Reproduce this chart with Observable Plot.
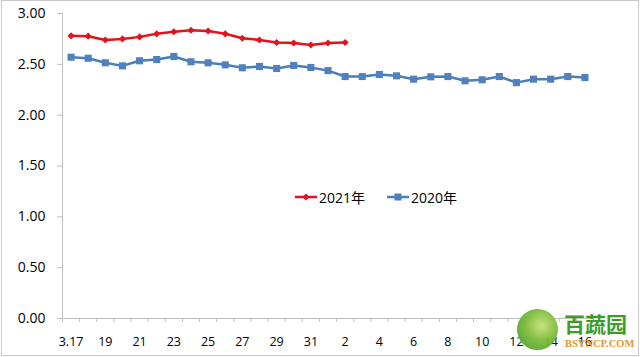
<!DOCTYPE html>
<html>
<head>
<meta charset="utf-8">
<script src="https://cdn.jsdelivr.net/npm/d3@7"></script>
<script src="https://cdn.jsdelivr.net/npm/@observablehq/plot@0.6"></script>
<style>
  html, body { margin: 0; padding: 0; background: #fff; }
  #wrap { position: relative; width: 640px; height: 357px; overflow: hidden; font-family: "Open Sans", "Noto Sans CJK SC", sans-serif; }
  #border { position: absolute; left: 1px; top: 0; width: 636px; height: 354px; border: 1px solid #c8c8c8; pointer-events: none; }
  .leg { position: absolute; top: 186px; height: 22px; display: flex; align-items: center; font-size: 14px; color: #000; }
  .wm1 { position: absolute; left: 564px; top: 312px; font-size: 21px; font-weight: bold; color: #3d9b2c; font-family: "Noto Sans CJK SC", sans-serif; line-height: 22px; }
  .wm2 { position: absolute; left: 565px; top: 338px; font-size: 10.5px; font-weight: bold; color: #e8972a; font-family: "Liberation Serif", serif; line-height: 11px; }
  .logo { position: absolute; left: 517px; top: 309px; width: 41px; height: 41px; border-radius: 50%; background: radial-gradient(circle at 60% 40%, #c7e27a 0%, #7dbb3a 45%, #3f9a2a 100%); opacity: 0.95; }
</style>
</head>
<body>
<div id="wrap">
  <div id="chart"></div>
  <div class="leg" style="left:295px;">
    <svg width="23" height="10"><line x1="0" y1="5" x2="22" y2="5" stroke="#e3121b" stroke-width="2.5"/><path d="M11,1.5 L14.5,5 L11,8.5 L7.5,5 Z" fill="#e3121b"/></svg>
    <span style="margin-left:1px">2021年</span>
  </div>
  <div class="leg" style="left:387px;">
    <svg width="23" height="10"><line x1="0" y1="5" x2="22" y2="5" stroke="#4a7ebb" stroke-width="2.5"/><rect x="7.5" y="1.5" width="7" height="7" fill="#4f81bd"/></svg>
    <span style="margin-left:1px">2020年</span>
  </div>
  <div class="logo"></div>
  <div class="wm1">百蔬园</div>
  <div class="wm2">BSYNCP.COM</div>
  <div id="border"></div>
</div>
<script>
const dates = ["3.17","3.18","3.19","3.20","3.21","3.22","3.23","3.24","3.25","3.26","3.27","3.28","3.29","3.30","3.31",
  "4.1","4.2","4.3","4.4","4.5","4.6","4.7","4.8","4.9","4.10","4.11","4.12","4.13","4.14","4.15","4.16"];
const tickLabels = ["3.17","19","21","23","25","27","29","31","2","4","6","8","10","12","14","16"];
const values2021 = [2.78,2.777,2.74,2.75,2.77,2.80,2.82,2.835,2.828,2.80,2.757,2.74,2.715,2.71,2.69,2.71,2.715];
const values2020 = [2.57,2.56,2.515,2.485,2.535,2.547,2.577,2.525,2.515,2.495,2.466,2.479,2.459,2.489,2.469,2.438,
  2.38,2.38,2.40,2.387,2.354,2.377,2.38,2.338,2.348,2.38,2.32,2.354,2.354,2.38,2.37];
const yTicks = [0,0.5,1,1.5,2,2.5,3];

const d2021 = values2021.map((v,i) => ({x: i + 0.5, date: dates[i], v}));
const d2020 = values2020.map((v,i) => ({x: i + 0.5, date: dates[i], v}));
const labelPos = tickLabels.map((_, k) => 2*k + 0.5);

const red = "#e3121b", blue = "#4a7ebb", blueFill = "#4f81bd", axisGray = "#bfbfbf";

const chart = Plot.plot({
  width: 640, height: 357,
  marginLeft: 62, marginRight: 47, marginTop: 13, marginBottom: 39,
  style: {fontFamily: '"Open Sans", "Noto Sans CJK SC", sans-serif', color: "#000", background: "transparent"},
  x: {domain: [0, dates.length], label: null},
  y: {domain: [0, 3], label: null},
  marks: [
    Plot.axisY({ticks: yTicks, tickFormat: d3.format(".2f"), tickSize: 5, tickPadding: 12, fontSize: 14, stroke: axisGray, label: null}),
    Plot.axisX({ticks: d3.range(0, dates.length + 1), tickFormat: () => "", tickSize: 4, stroke: axisGray, label: null}),
    Plot.axisX({ticks: labelPos, tickFormat: d => tickLabels[Math.round((d - 0.5) / 2)], tickSize: 0, tickPadding: 19, fontSize: 12.5, label: null}),
    Plot.ruleX([0], {stroke: axisGray}),
    Plot.ruleY([0], {stroke: axisGray}),
    Plot.line(d2020, {x: "x", y: "v", stroke: blue, strokeWidth: 2.5}),
    Plot.dot(d2020, {x: "x", y: "v", symbol: "square", r: 4, fill: blueFill, stroke: "none"}),
    Plot.line(d2021, {x: "x", y: "v", stroke: red, strokeWidth: 2.5}),
    Plot.dot(d2021, {x: "x", y: "v", symbol: "diamond2", r: 3.2, fill: red, stroke: "none"})
  ]
});
document.getElementById("chart").appendChild(chart);
</script>
</body>
</html>
